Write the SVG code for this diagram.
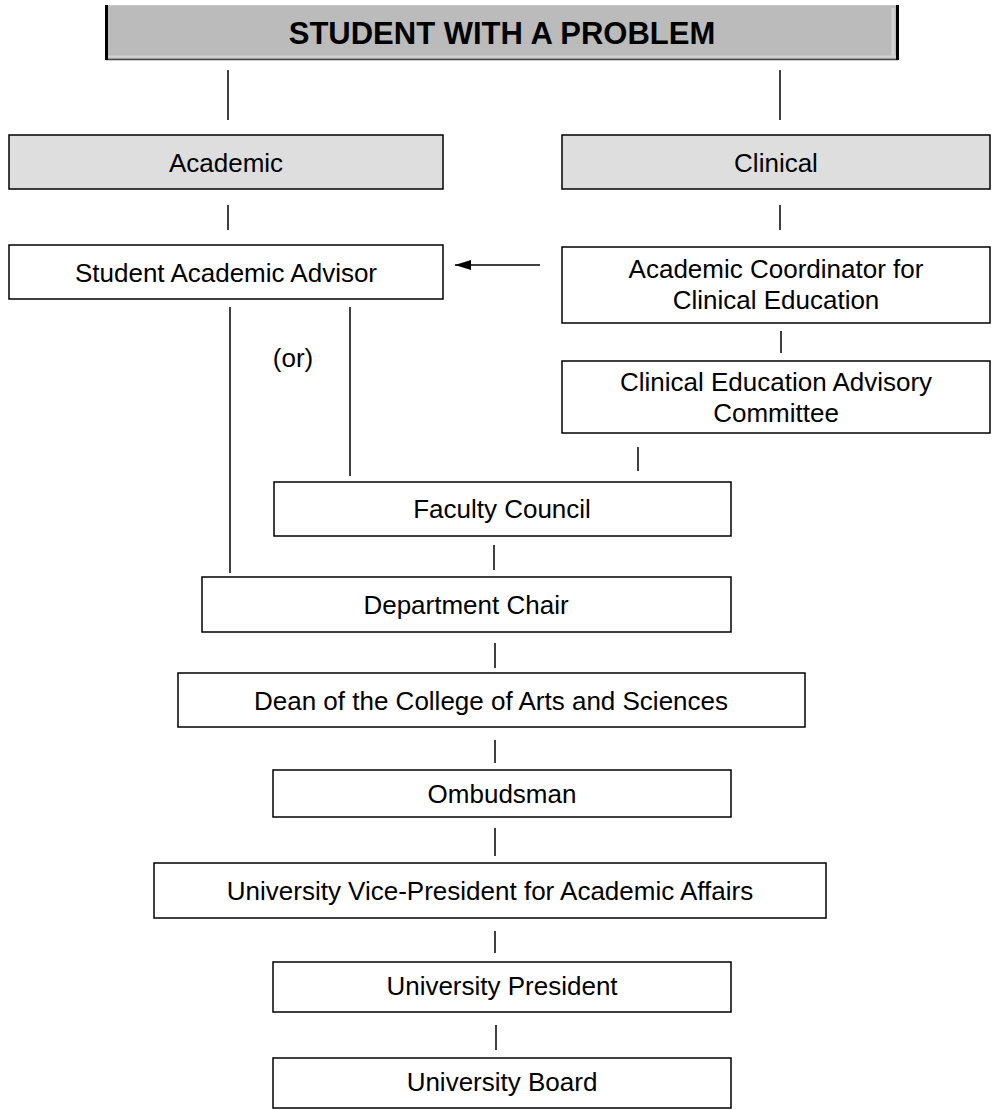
<svg xmlns="http://www.w3.org/2000/svg" width="996" height="1110" viewBox="0 0 996 1110">
<defs>
<style>
.box{fill:#ffffff;stroke:#000;stroke-width:1.5}
.gbox{fill:#dedede;stroke:#000;stroke-width:1.5}
.t{font-family:"Liberation Sans",Arial,sans-serif;font-size:26px;fill:#000;text-anchor:middle}
.title{font-family:"Liberation Sans",Arial,sans-serif;font-size:31px;font-weight:bold;fill:#000;text-anchor:middle}
.ln{stroke:#000;stroke-width:1.5;fill:none}
</style>
<marker id="ah" viewBox="0 0 16 10" refX="16" refY="5" markerWidth="16" markerHeight="10" markerUnits="userSpaceOnUse" orient="auto">
<path d="M0,0 L16,5 L0,10 z" fill="#000"/>
</marker>
</defs>
<rect width="996" height="1110" fill="#fff"/>
<g id="connectors">
<line class="ln" x1="228" y1="70" x2="228" y2="120"/>
<line class="ln" x1="780" y1="70" x2="780" y2="120"/>
<line class="ln" x1="228" y1="205" x2="228" y2="230"/>
<line class="ln" x1="780" y1="205" x2="780" y2="230"/>
<line class="ln" x1="540" y1="265" x2="455" y2="265" stroke-width="2" marker-end="url(#ah)"/>
<line class="ln" x1="781" y1="331" x2="781" y2="353"/>
<line class="ln" x1="638" y1="447" x2="638" y2="471"/>
<line class="ln" x1="230" y1="307" x2="230" y2="573"/>
<line class="ln" x1="350" y1="307" x2="350" y2="476"/>
<line class="ln" x1="494" y1="545" x2="494" y2="570"/>
<line class="ln" x1="495" y1="643" x2="495" y2="668"/>
<line class="ln" x1="495" y1="740" x2="495" y2="763"/>
<line class="ln" x1="495" y1="828" x2="495" y2="856"/>
<line class="ln" x1="495" y1="931" x2="495" y2="953"/>
<line class="ln" x1="496" y1="1025" x2="496" y2="1050"/>
<text class="t" x="293" y="367">(or)</text>
</g>
<g id="title">
<rect x="106" y="5" width="792" height="55" fill="#bbbbbb"/>
<line x1="106" y1="5.5" x2="898" y2="5.5" stroke="#c8c8c8" stroke-width="1"/>
<line x1="893" y1="8" x2="893" y2="57" stroke="#d4d4d4" stroke-width="3"/>
<line x1="108" y1="56.5" x2="896" y2="56.5" stroke="#d4d4d4" stroke-width="2"/>
<line x1="106" y1="59.5" x2="898" y2="59.5" stroke="#444" stroke-width="1.5"/>
<line x1="106.5" y1="5" x2="106.5" y2="60" stroke="#000" stroke-width="3"/>
<line x1="897.5" y1="5" x2="897.5" y2="60" stroke="#000" stroke-width="3"/>
<text class="title" x="502" y="44">STUDENT WITH A PROBLEM</text>
</g>
<g id="academic">
<rect class="gbox" x="9" y="135" width="434" height="54"/>
<text class="t" x="226" y="172">Academic</text>
</g>
<g id="clinical">
<rect class="gbox" x="562" y="135" width="428" height="54"/>
<text class="t" x="776" y="172">Clinical</text>
</g>
<g id="student-academic-advisor">
<rect class="box" x="9" y="245" width="434" height="54"/>
<text class="t" x="226" y="282">Student Academic Advisor</text>
</g>
<g id="academic-coordinator">
<rect class="box" x="562" y="247" width="428" height="76"/>
<text class="t" x="776" y="278">Academic Coordinator for</text>
<text class="t" x="776" y="309">Clinical Education</text>
</g>
<g id="clinical-education-advisory-committee">
<rect class="box" x="562" y="361" width="428" height="72"/>
<text class="t" x="776" y="391">Clinical Education Advisory</text>
<text class="t" x="776" y="422">Committee</text>
</g>
<g id="faculty-council">
<rect class="box" x="274" y="482" width="457" height="54"/>
<text class="t" x="502" y="518">Faculty Council</text>
</g>
<g id="department-chair">
<rect class="box" x="202" y="577" width="529" height="55"/>
<text class="t" x="466" y="614">Department Chair</text>
</g>
<g id="dean">
<rect class="box" x="178" y="673" width="627" height="54"/>
<text class="t" x="491" y="710">Dean of the College of Arts and Sciences</text>
</g>
<g id="ombudsman">
<rect class="box" x="273" y="770" width="458" height="47"/>
<text class="t" x="502" y="803">Ombudsman</text>
</g>
<g id="vice-president">
<rect class="box" x="154" y="863" width="672" height="55"/>
<text class="t" x="490" y="900">University Vice-President for Academic Affairs</text>
</g>
<g id="president">
<rect class="box" x="273" y="962" width="458" height="50"/>
<text class="t" x="502" y="995">University President</text>
</g>
<g id="board">
<rect class="box" x="273" y="1058" width="458" height="50"/>
<text class="t" x="502" y="1091">University Board</text>
</g>
</svg>
